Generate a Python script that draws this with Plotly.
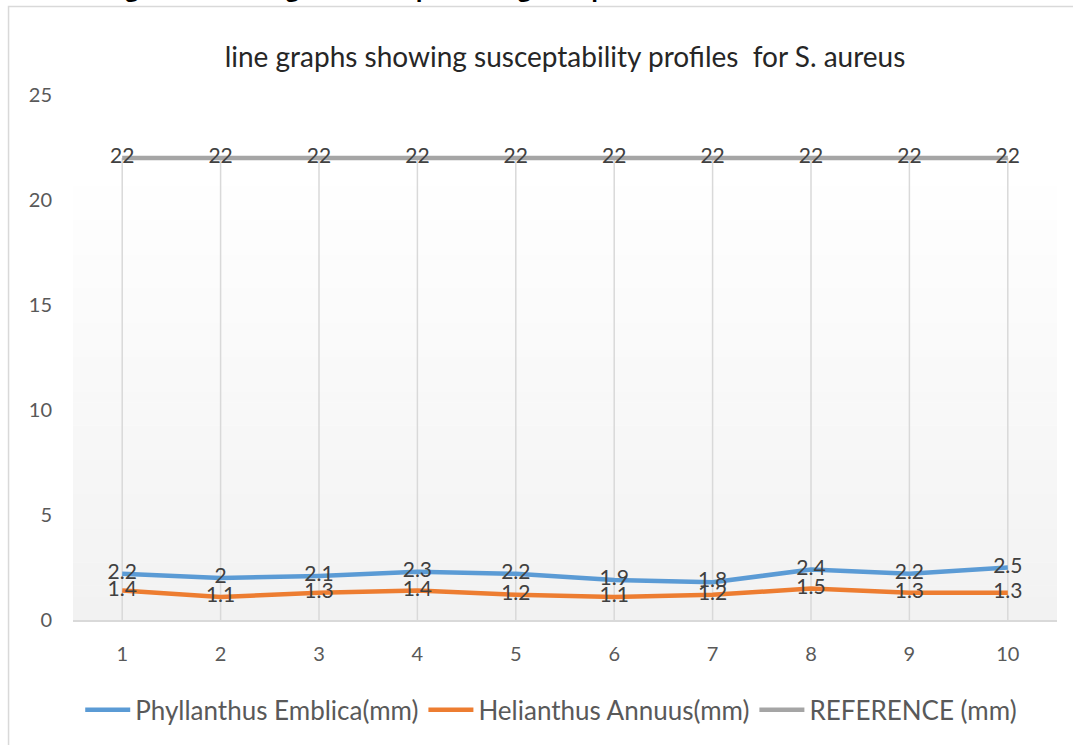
import plotly.graph_objects as go

categories = ["1", "2", "3", "4", "5", "6", "7", "8", "9", "10"]
phyllanthus = [2.2, 2, 2.1, 2.3, 2.2, 1.9, 1.8, 2.4, 2.2, 2.5]
helianthus = [1.4, 1.1, 1.3, 1.4, 1.2, 1.1, 1.2, 1.5, 1.3, 1.3]
reference = [22, 22, 22, 22, 22, 22, 22, 22, 22, 22]
y_ticks = [0, 5, 10, 15, 20, 25]

series = [
    ("Phyllanthus Emblica(mm)", phyllanthus, "#5B9BD5"),
    ("Helianthus Annuus(mm)", helianthus, "#ED7D31"),
    ("REFERENCE (mm)", reference, "#A5A5A5"),
]

FONT = "Lato"
TXT = "#595959"

fig = go.Figure()

# drop lines from the highest value of each category to the axis
drop_x, drop_y = [], []
for i, c in enumerate(categories):
    top = max(phyllanthus[i], helianthus[i], reference[i])
    drop_x += [c, c, None]
    drop_y += [0, top, None]
fig.add_trace(go.Scatter(x=drop_x, y=drop_y, mode="lines",
                         line=dict(color="#D9D9D9", width=1.5),
                         showlegend=False, hoverinfo="skip"))

for name, vals, color in series:
    fig.add_trace(go.Scatter(
        x=categories, y=vals, name=name, mode="lines+text",
        line=dict(color=color, width=4.5),
        text=[f"{v:g}" for v in vals], textposition="middle center",
        textfont=dict(family=FONT, size=21, color="#404040"),
        cliponaxis=False,
    ))

# gradient plot-area background (white at top to light grey at bottom)
shapes = []
n = 40
top_paper = 0.871
for k in range(n):
    y0 = top_paper * k / n
    y1 = top_paper * (k + 1) / n
    t = k / (n - 1)
    g = round(242 + (255 - 242) * t)
    shapes.append(dict(type="rect", xref="paper", yref="paper", x0=0, x1=1,
                       y0=y0, y1=y1 + 0.001, layer="below",
                       line=dict(width=0), fillcolor=f"rgb({g},{g},{g})"))
# outer chart border
shapes.append(dict(type="rect", xref="paper", yref="paper",
                   x0=-0.0655, x1=1.2, y0=-0.5, y1=1.1685,
                   line=dict(color="#D9D9D9", width=1.5), layer="below"))

fig.update_layout(
    width=1073, height=745,
    margin=dict(l=73, r=16, t=95, b=123),
    paper_bgcolor="white", plot_bgcolor="rgba(0,0,0,0)",
    font=dict(family=FONT, color=TXT, size=20),
    shapes=shapes,
    title=dict(text="line graphs showing susceptability profiles  for S. aureus",
               x=0.5, xref="paper", y=0.923, yanchor="middle",
               font=dict(family=FONT, size=28, color="#262626")),
    xaxis=dict(type="category", range=[-0.5, 9.5], showgrid=False,
               showline=True, linecolor="#D9D9D9", linewidth=1.5,
               ticks="", tickfont=dict(size=20, color=TXT),
               ticklabelstandoff=15, zeroline=False),
    yaxis=dict(range=[0, 25], tickvals=y_ticks, showgrid=False,
               showline=False, zeroline=False, ticks="",
               tickfont=dict(size=20, color=TXT), ticklabelstandoff=20),
    legend=dict(orientation="h", x=0.486, xanchor="center", y=-0.171,
                yanchor="middle", font=dict(size=26, color=TXT),
                itemwidth=45, traceorder="normal"),
    annotations=[dict(
        text="<b>Figure 1: Showing antibiotic profiles against penicillin-resistant S. aureus.</b>",
        xref="paper", yref="paper", x=0.853, xanchor="right",
        y=1.171, yanchor="bottom", showarrow=False,
        font=dict(family="Open Sans", size=22, color="black"))],
)

fig.write_html("out.html", config={"displayModeBar": False},
               post_script="document.body.style.margin='0';")
